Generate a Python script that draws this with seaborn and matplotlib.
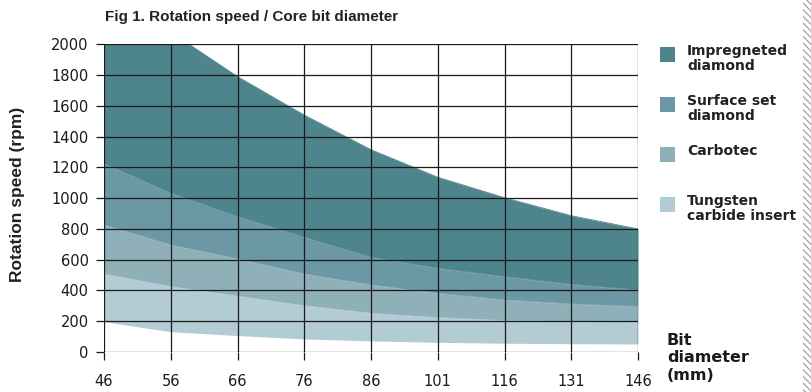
import numpy as np
import pandas as pd
import seaborn as sns
import matplotlib.pyplot as plt
from matplotlib.patches import Rectangle

# bit diameters (mm), evenly spaced categories on the x axis
diameters = ['46', '56', '66', '76', '86', '101', '116', '131', '146']

# band boundaries (rpm), top to bottom
impreg_top = [2500, 2080, 1790, 1540, 1315, 1136, 1003, 886, 800]
impreg_low = [1225, 1032, 880, 746, 616, 544, 490, 440, 403]
surface_low = [826, 696, 605, 507, 436, 381, 338, 312, 295]
carbotec_low = [507, 425, 363, 301, 251, 223, 204, 197, 190]
tungsten_low = [197, 132, 107, 85, 72, 63, 57, 54, 52]

names = ['Impregneted\ndiamond', 'Surface set\ndiamond', 'Carbotec', 'Tungsten\ncarbide insert']
colors = ['#4e848c', '#6b98a4', '#8fb0b8', '#b3cbd3']
yticks = list(range(0, 2001, 200))

sns.set_style('white')
plt.rcParams['font.family'] = ['DejaVu Sans']
plt.rcParams['hatch.linewidth'] = 0.8

df = pd.DataFrame({'pos': np.arange(len(diameters)), 'top': impreg_top, 'b1': impreg_low,
                   'b2': surface_low, 'b3': carbotec_low, 'b4': tungsten_low})

fig = plt.figure(figsize=(8.12, 3.92), dpi=100)
ax = fig.add_axes([104 / 812, 1 - 352 / 392, (638 - 104) / 812, (352 - 44.3) / 392])

bounds = ['top', 'b1', 'b2', 'b3', 'b4']
for i, c in enumerate(colors):
    ax.fill_between(df['pos'], df[bounds[i + 1]], df[bounds[i]], color=c, linewidth=0, zorder=1)
    sns.lineplot(data=df, x='pos', y=bounds[i], color=c, linewidth=0.6, ax=ax, zorder=1)

ax.set_xlim(0, len(diameters) - 1)
ax.set_ylim(0, 2000)
ax.set_xticks(df['pos'], diameters)
ax.set_yticks(yticks, [str(v) for v in yticks])
ax.grid(True, color='#1a1a1a', linewidth=0.9, zorder=3)
ax.set_axisbelow(False)
for s in ax.spines.values():
    s.set_visible(False)
ax.tick_params(axis='both', which='both', length=6, width=0.9, color='#1a1a1a',
               labelsize=10.5, labelcolor='#1a1a1a', left=True, bottom=True)
ax.tick_params(axis='x', pad=10)
ax.tick_params(axis='y', pad=5)
ax.set_xlabel('')
ax.set_ylabel('')

fig.text(18 / 812, 1 - 194 / 392, 'Rotation speed (rpm)', rotation=90, fontsize=12.5,
         fontweight='bold', color='#222222', va='center', ha='center',
         family=['Liberation Sans', 'DejaVu Sans'])

fig.text(105 / 812, 1 - 17 / 392, 'Fig 1. Rotation speed / Core bit diameter', fontsize=11,
         fontweight='bold', color='#222222', va='center', ha='left',
         family=['Liberation Sans', 'DejaVu Sans'])

# legend drawn by hand
leg_top = [46.7, 96.7, 146.7, 197]
for name, c, y in zip(names, colors, leg_top):
    fig.add_artist(Rectangle((660 / 812, 1 - (y + 15) / 392), 15 / 812, 15 / 392,
                             transform=fig.transFigure, color=c, linewidth=0))
    fig.text(687 / 812, 1 - (y - 3) / 392, name, fontsize=10, fontweight='bold', color='#222222',
             va='top', ha='left', linespacing=1.1)

fig.text(667 / 812, 1 - 333 / 392, 'Bit\ndiameter\n(mm)', fontsize=11.5, fontweight='bold',
         color='#1a1a1a', va='top', ha='left', linespacing=1.2)

# hatched strip on the right edge
fig.add_artist(Rectangle((803 / 812, 0), 9 / 812, 1, transform=fig.transFigure,
                         fill=False, hatch='\\\\\\\\\\', edgecolor='#9a9a9a', linewidth=0))

fig.savefig('out.png', dpi=100)
